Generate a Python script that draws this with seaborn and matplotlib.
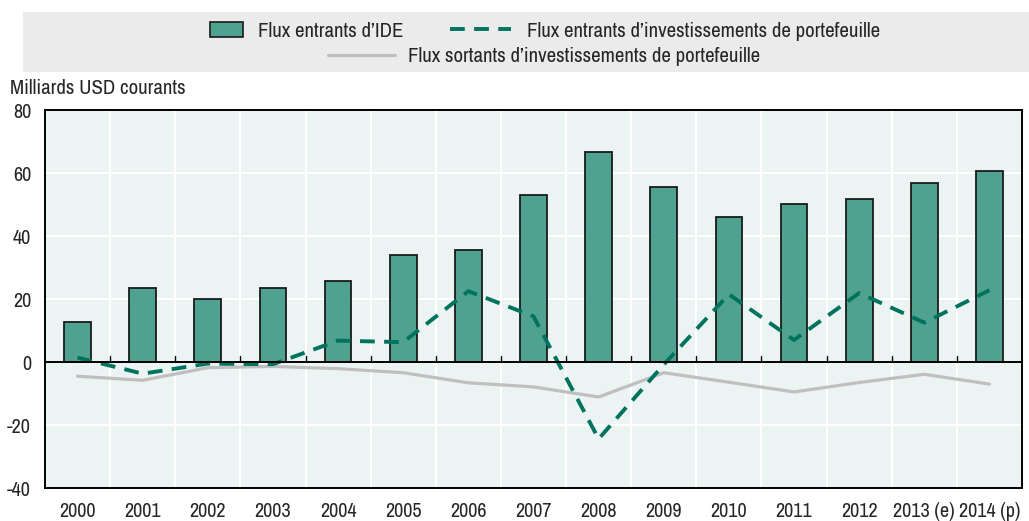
import numpy as np
import pandas as pd
import matplotlib
matplotlib.use("Agg")
import matplotlib.pyplot as plt
from matplotlib.patches import Rectangle, Patch
from matplotlib.lines import Line2D
import seaborn as sns

years = ["2000", "2001", "2002", "2003", "2004", "2005", "2006", "2007",
         "2008", "2009", "2010", "2011", "2012", "2013 (e)", "2014 (p)"]
ide_in = [12.6, 23.5, 20.0, 23.6, 25.6, 33.9, 35.6, 53.0, 66.8, 55.5,
          46.2, 50.1, 51.9, 56.8, 60.6]
portf_in = [1.4, -3.7, -0.5, -0.7, 6.8, 6.3, 22.5, 14.5, -24.4, -0.8,
            21.5, 7.0, 21.9, 12.5, 22.8]
portf_out = [-4.5, -5.8, -1.8, -1.4, -2.1, -3.4, -6.6, -7.9, -11.1, -3.4,
             -6.4, -9.5, -6.5, -3.9, -7.0]

lab_ide = "Flux entrants d\u2019IDE"
lab_in = "Flux entrants d\u2019investissements de portefeuille"
lab_out = "Flux sortants d\u2019investissements de portefeuille"

bar_col = "#50a290"
dash_col = "#00735f"
gray_col = "#bfbfbf"
dash_pat = [3.8, 2.4]

df = pd.DataFrame({"year": years, "ide": ide_in, "pin": portf_in,
                   "pout": portf_out, "pos": np.arange(len(years))})

sns.set_style("white")
plt.rcParams["font.family"] = ["Archivo Narrow", "DejaVu Sans"]
plt.rcParams["font.size"] = 15
plt.rcParams["axes.unicode_minus"] = False

fig = plt.figure(figsize=(10.29, 5.21), dpi=100)
ax = fig.add_axes([0.0437, 0.0633, 0.9495, 0.7255])
ax.set_facecolor("#ebf4f3")

# grid: white lines between categories and at y ticks
for b in np.arange(len(years) - 1) + 0.5:
    ax.axvline(b, color="white", lw=1.5, zorder=0)
for yv in [-20, 20, 40, 60]:
    ax.axhline(yv, color="white", lw=1.5, zorder=0)

sns.barplot(data=df, x="year", y="ide", color=bar_col, width=0.41,
            edgecolor="#1a1a1a", linewidth=1.3, saturation=1, ax=ax, zorder=2)
sns.lineplot(data=df, x="pos", y="pout", color=gray_col, lw=2.3, ax=ax, zorder=3)
sns.lineplot(data=df, x="pos", y="pin", color=dash_col, lw=2.8, ax=ax, zorder=4)
ax.lines[-1].set_dashes(dash_pat)

ax.axhline(0, color="black", lw=1.4, zorder=5)
# small ticks on the zero line between categories
for b in np.arange(len(years) - 1) + 0.5:
    ax.plot([b, b], [0, 1.8], color="black", lw=1, zorder=5)

ax.set_xlim(-0.5, len(years) - 0.5)
ax.set_ylim(-40, 80)
ax.set_yticks([-40, -20, 0, 20, 40, 60, 80])
ax.set_xlabel("")
ax.set_ylabel("")
ax.tick_params(axis="x", length=0, pad=10, labelsize=14.5)
ax.tick_params(axis="y", length=0, pad=10, labelsize=14.5)
for s in ax.spines.values():
    s.set_visible(True)
    s.set_color("black")
    s.set_linewidth(1.4)

fig.text(0.0097, 0.831, "Milliards USD courants", fontsize=15, va="center")

# legend band
fig.patches.append(Rectangle((0.022, 0.861), 0.978, 0.116, transform=fig.transFigure,
                             facecolor="#ebebeb", edgecolor="none", zorder=0))
kw = dict(loc="center left", frameon=False, fontsize=15, borderpad=0)
fig.legend([Patch(facecolor=bar_col, edgecolor="#1a1a1a", lw=1.2)], [lab_ide],
           bbox_to_anchor=(0.1944, 0.940), handlelength=1.54, handletextpad=0.72, **kw)
fig.legend([Line2D([], [], color=dash_col, lw=2.8, dashes=dash_pat)], [lab_in],
           bbox_to_anchor=(0.4276, 0.940), handlelength=2.9, handletextpad=0.77, **kw)
fig.legend([Line2D([], [], color=gray_col, lw=2.3)], [lab_out],
           bbox_to_anchor=(0.309, 0.891), handlelength=3.2, handletextpad=0.63, **kw)

fig.savefig("out.png", dpi=100)
